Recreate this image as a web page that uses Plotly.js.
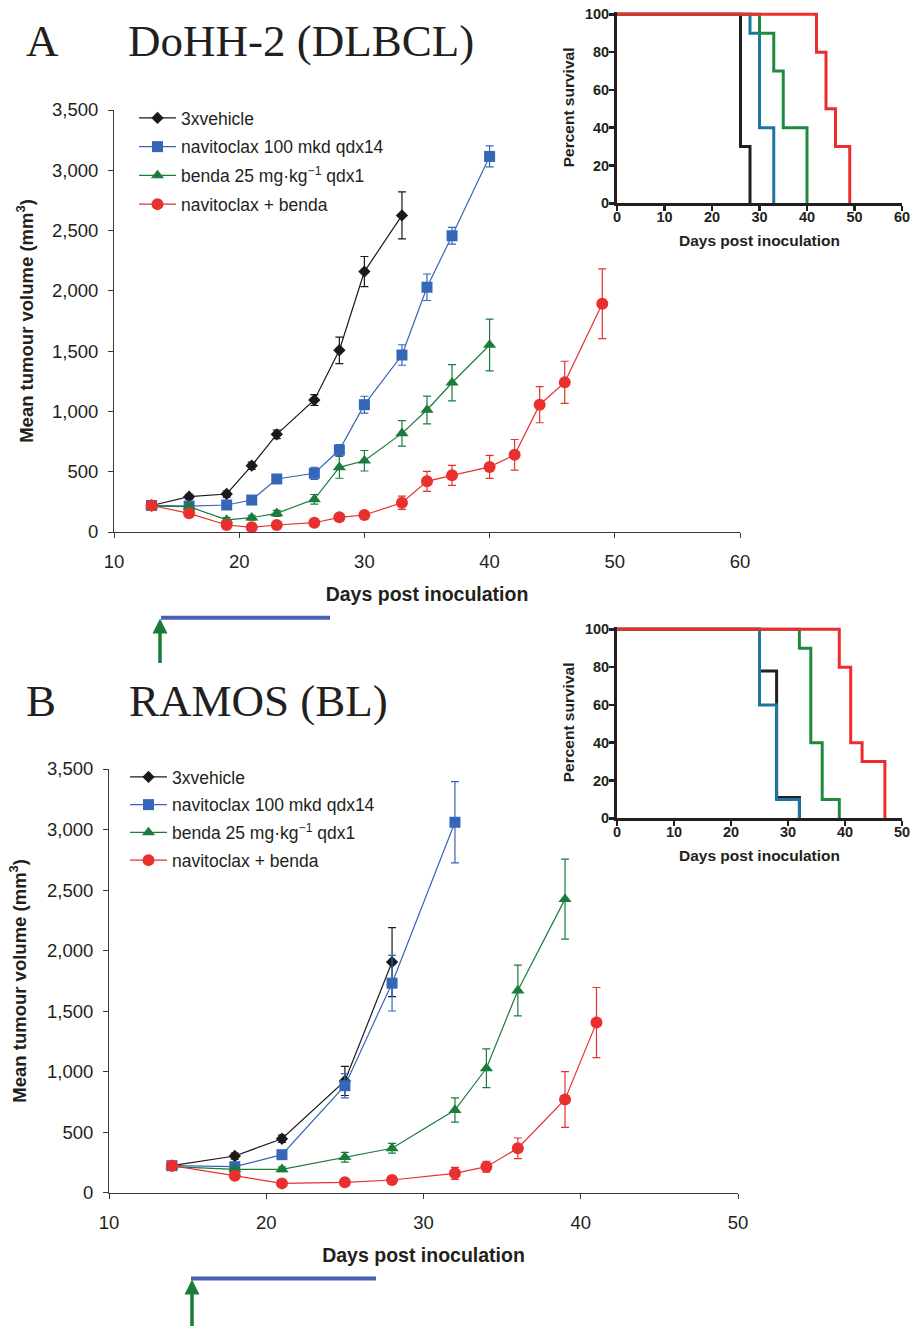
<!DOCTYPE html>
<html>
<head>
<meta charset="utf-8">
<script src="https://cdn.plot.ly/plotly-3.0.1.min.js"></script>
<style>html,body{margin:0;padding:0;background:#fff;}#chart{width:911px;height:1326px;}</style>
</head>
<body>
<div id="chart"></div>
<script>
// ---------- Panel A: DoHH-2 (DLBCL) tumour growth ----------
var seriesNames = ['3xvehicle', 'navitoclax 100 mkd qdx14', 'benda 25 mg\u00b7kg<sup>\u22121</sup> qdx1', 'navitoclax + benda'];

var daysA_vehicle = [13, 16, 19, 21, 23, 26, 28, 30, 33];
var volA_vehicle  = [220, 293, 315, 550, 810, 1095, 1507, 2160, 2626];
var semA_vehicle  = [15, 20, 25, 30, 35, 45, 110, 125, 195];

var daysA_navi = [13, 16, 19, 21, 23, 26, 28, 30, 33, 35, 37, 40];
var volA_navi  = [220, 215, 224, 265, 440, 487, 680, 1056, 1468, 2030, 2457, 3115];
var semA_navi  = [15, 15, 20, 20, 30, 50, 45, 70, 85, 110, 70, 87];

var daysA_benda = [13, 16, 19, 21, 23, 26, 28, 30, 33, 35, 37, 40];
var volA_benda  = [215, 210, 100, 119, 155, 271, 536, 591, 818, 1012, 1238, 1551];
var semA_benda  = [15, 15, 20, 20, 25, 40, 90, 85, 105, 115, 150, 215];

var daysA_combo = [13, 16, 19, 21, 23, 26, 28, 30, 33, 35, 37, 40, 42, 44, 46, 49];
var volA_combo  = [220, 155, 58, 39, 58, 77, 122, 141, 243, 420, 470, 540, 640, 1056, 1241, 1893];
var semA_combo  = [15, 15, 15, 10, 15, 15, 20, 20, 55, 83, 83, 95, 127, 150, 175, 290];

// ---------- Panel A inset: survival ----------
var survA_vehicle_x = [0, 26, 28];         var survA_vehicle_y = [100, 30, 0];
var survA_navi_x    = [0, 28, 30, 33];     var survA_navi_y    = [100, 90, 40, 0];
var survA_benda_x   = [0, 30, 33, 35, 40]; var survA_benda_y   = [100, 90, 70, 40, 0];
var survA_combo_x   = [0, 42, 44, 46, 49]; var survA_combo_y   = [100, 80, 50, 30, 0];

// ---------- Panel B: RAMOS (BL) tumour growth ----------
var daysB_vehicle = [14, 18, 21, 25, 28];
var volB_vehicle  = [223, 303, 446, 923, 1905];
var semB_vehicle  = [20, 25, 30, 120, 285];

var daysB_navi = [14, 18, 21, 25, 28, 32];
var volB_navi  = [223, 215, 314, 884, 1731, 3060];
var semB_navi  = [20, 20, 25, 100, 230, 335];

var daysB_benda = [14, 18, 21, 25, 28, 32, 34, 36, 39];
var volB_benda  = [215, 193, 193, 293, 367, 683, 1028, 1670, 2425];
var semB_benda  = [15, 20, 20, 40, 40, 100, 160, 210, 330];

var daysB_combo = [14, 18, 21, 25, 28, 32, 34, 36, 39, 41];
var volB_combo  = [223, 140, 77, 86, 105, 160, 215, 367, 770, 1405];
var semB_combo  = [15, 20, 15, 15, 25, 50, 45, 85, 230, 290];

// ---------- Panel B inset: survival ----------
var survB_vehicle_x = [0, 25, 28, 32];     var survB_vehicle_y = [100, 78, 11, 0];
var survB_navi_x    = [0, 25, 28, 32];     var survB_navi_y    = [100, 60, 10, 0];
var survB_benda_x   = [0, 32, 34, 36, 39]; var survB_benda_y   = [100, 90, 40, 10, 0];
var survB_combo_x   = [0, 39, 41, 43, 47]; var survB_combo_y   = [100, 80, 40, 30, 0];

var ticksMain = [0, 500, 1000, 1500, 2000, 2500, 3000, 3500];

// ---------- styling ----------
var SANS = 'Liberation Sans, Arial, sans-serif';
var SERIF = 'Liberation Serif, Times New Roman, serif';
var mainColors = ['#1a1a1a', '#3566b8', '#1b7c3c', '#e8312f'];
var insetColors = ['#231f20', '#1c76a0', '#1f8a3e', '#ee2c2c'];
var symbols = ['diamond', 'square', 'triangle-up', 'circle'];
var sizes = [9.5, 11, 11.5, 12];

function growth(x, y, e, i, xa, ya, leg) {
  return {
    type: 'scatter', mode: 'lines+markers', x: x, y: y,
    name: seriesNames[i], xaxis: xa, yaxis: ya, legend: leg, legendgroup: leg + i,
    line: {color: mainColors[i], width: 1.2},
    marker: {symbol: symbols[i], size: sizes[i], color: mainColors[i]},
    error_y: {type: 'data', array: e, visible: true, color: mainColors[i], thickness: 1.2, width: 4},
    cliponaxis: false
  };
}
function surv(x, y, i, xa, ya) {
  return {
    type: 'scatter', mode: 'lines', x: x, y: y, xaxis: xa, yaxis: ya, showlegend: false,
    line: {color: insetColors[i], width: 3, shape: 'hv'}, hoverinfo: 'skip'
  };
}

var data = [
  growth(daysA_vehicle, volA_vehicle, semA_vehicle, 0, 'x', 'y', 'legend'),
  growth(daysA_navi, volA_navi, semA_navi, 1, 'x', 'y', 'legend'),
  growth(daysA_benda, volA_benda, semA_benda, 2, 'x', 'y', 'legend'),
  growth(daysA_combo, volA_combo, semA_combo, 3, 'x', 'y', 'legend'),
  surv(survA_vehicle_x, survA_vehicle_y, 0, 'x2', 'y2'),
  surv(survA_navi_x, survA_navi_y, 1, 'x2', 'y2'),
  surv(survA_benda_x, survA_benda_y, 2, 'x2', 'y2'),
  surv(survA_combo_x, survA_combo_y, 3, 'x2', 'y2'),
  growth(daysB_vehicle, volB_vehicle, semB_vehicle, 0, 'x3', 'y3', 'legend2'),
  growth(daysB_navi, volB_navi, semB_navi, 1, 'x3', 'y3', 'legend2'),
  growth(daysB_benda, volB_benda, semB_benda, 2, 'x3', 'y3', 'legend2'),
  growth(daysB_combo, volB_combo, semB_combo, 3, 'x3', 'y3', 'legend2'),
  surv(survB_vehicle_x, survB_vehicle_y, 0, 'x4', 'y4'),
  surv(survB_navi_x, survB_navi_y, 1, 'x4', 'y4'),
  surv(survB_benda_x, survB_benda_y, 2, 'x4', 'y4'),
  surv(survB_combo_x, survB_combo_y, 3, 'x4', 'y4')
];

var W = 911, H = 1326;
function px(v) { return v / W; }
function py(v) { return 1 - v / H; }

function mainX(dom, range, anchor) {
  return {
    domain: dom, range: range, anchor: anchor, dtick: 10, tick0: 0,
    showline: true, linecolor: '#3a3a3a', linewidth: 1,
    ticks: 'outside', ticklen: 5, tickwidth: 1, tickcolor: '#3a3a3a',
    showgrid: false, zeroline: false, ticklabelstandoff: 8,
    tickfont: {family: SANS, size: 18.5, color: '#231f20'},
    title: {text: 'Days post inoculation', standoff: 16,
            font: {family: SANS, size: 19.5, color: '#231f20', weight: 'bold'}}
  };
}
function mainY(dom, anchor, standoff) {
  return {
    domain: dom, range: [0, 3500], anchor: anchor, tickvals: ticksMain, tickformat: ',d',
    showline: true, linecolor: '#3a3a3a', linewidth: 1,
    ticks: 'outside', ticklen: 5, tickwidth: 1, tickcolor: '#3a3a3a',
    showgrid: false, zeroline: false, ticklabelstandoff: 6,
    tickfont: {family: SANS, size: 18.5, color: '#231f20'},
    title: {text: 'Mean tumour volume (mm<sup>3</sup>)', standoff: standoff,
            font: {family: SANS, size: 18.5, color: '#231f20', weight: 'bold'}}
  };
}
function insetX(range, anchor) {
  return {
    domain: [px(617), px(902)], range: range, anchor: anchor, dtick: 10, tick0: 0,
    showline: true, linecolor: '#231f20', linewidth: 3,
    ticks: 'outside', ticklen: 5, tickwidth: 2.5, tickcolor: '#231f20',
    showgrid: false, zeroline: false, ticklabelstandoff: -7,
    tickfont: {family: SANS, size: 14.5, color: '#231f20', weight: 'bold'},
    title: {text: 'Days post inoculation', standoff: 12,
            font: {family: SANS, size: 15.5, color: '#231f20', weight: 'bold'}}
  };
}
function insetY(dom, anchor) {
  return {
    domain: dom, range: [0, 101.5], anchor: anchor, tickvals: [0, 20, 40, 60, 80, 100],
    showline: true, linecolor: '#231f20', linewidth: 3,
    ticks: 'outside', ticklen: 5, tickwidth: 2.5, tickcolor: '#231f20',
    showgrid: false, zeroline: false, ticklabelstandoff: -3,
    tickfont: {family: SANS, size: 14.5, color: '#231f20', weight: 'bold'},
    title: {text: 'Percent survival', standoff: 7,
            font: {family: SANS, size: 15.5, color: '#231f20', weight: 'bold'}}
  };
}

var blueBar = '#4a62b5', greenArrow = '#1b7c3c';
function arrowShapes(x, tipY, tailY) {
  return [
    {type: 'line', xref: 'paper', yref: 'paper', x0: px(x), x1: px(x), y0: py(tailY), y1: py(tipY + 12),
     line: {color: greenArrow, width: 3.5}},
    {type: 'path', xref: 'paper', yref: 'paper', fillcolor: greenArrow, line: {width: 0},
     path: 'M' + px(x) + ',' + py(tipY) + ' L' + px(x - 7.5) + ',' + py(tipY + 15) + ' L' + px(x + 7.5) + ',' + py(tipY + 15) + ' Z'}
  ];
}

var shapes = [
  {type: 'line', xref: 'paper', yref: 'paper', x0: px(161), x1: px(330), y0: py(617.7), y1: py(617.7),
   line: {color: blueBar, width: 4}},
  {type: 'line', xref: 'paper', yref: 'paper', x0: px(191), x1: px(376), y0: py(1278.5), y1: py(1278.5),
   line: {color: blueBar, width: 4}}
].concat(arrowShapes(160, 618.5, 663)).concat(arrowShapes(192, 1279.5, 1326));

function bigText(t, x, y) {
  return {text: t, xref: 'paper', yref: 'paper', x: px(x), y: py(y), xanchor: 'left', yanchor: 'middle',
          showarrow: false, font: {family: SERIF, size: 45, color: '#231f20'}};
}

var legendBase = {
  bgcolor: 'rgba(0,0,0,0)', borderwidth: 0, xanchor: 'left', yanchor: 'top',
  font: {family: SANS, size: 17.5, color: '#231f20'}, itemwidth: 37
};

var layout = {
  width: W, height: H, margin: {l: 0, r: 0, t: 0, b: 0},
  paper_bgcolor: '#ffffff', plot_bgcolor: 'rgba(0,0,0,0)',
  font: {family: SANS, color: '#231f20'},
  showlegend: true,
  xaxis: mainX([px(114), px(740)], [10, 60], 'y'),
  yaxis: mainY([py(532), py(110)], 'x', 13),
  xaxis2: insetX([0, 60], 'y2'),
  yaxis2: insetY([py(203.3), py(11.5)], 'x2'),
  xaxis3: mainX([px(109), px(738)], [10, 50], 'y3'),
  yaxis3: mainY([py(1192.7), py(769)], 'x3', 15),
  xaxis4: insetX([0, 50], 'y4'),
  yaxis4: insetY([py(818.3), py(626.5)], 'x4'),
  legend: Object.assign({}, legendBase, {x: px(134), y: py(100), tracegroupgap: 3}),
  legend2: Object.assign({}, legendBase, {x: px(125), y: py(759), tracegroupgap: 2}),
  shapes: shapes,
  annotations: [
    bigText('A', 24, 41), bigText('DoHH-2 (DLBCL)', 126, 41),
    bigText('B', 24, 701), bigText('RAMOS (BL)', 127, 701)
  ]
};

Plotly.newPlot('chart', data, layout, {staticPlot: true, displayModeBar: false});
</script>
</body>
</html>
